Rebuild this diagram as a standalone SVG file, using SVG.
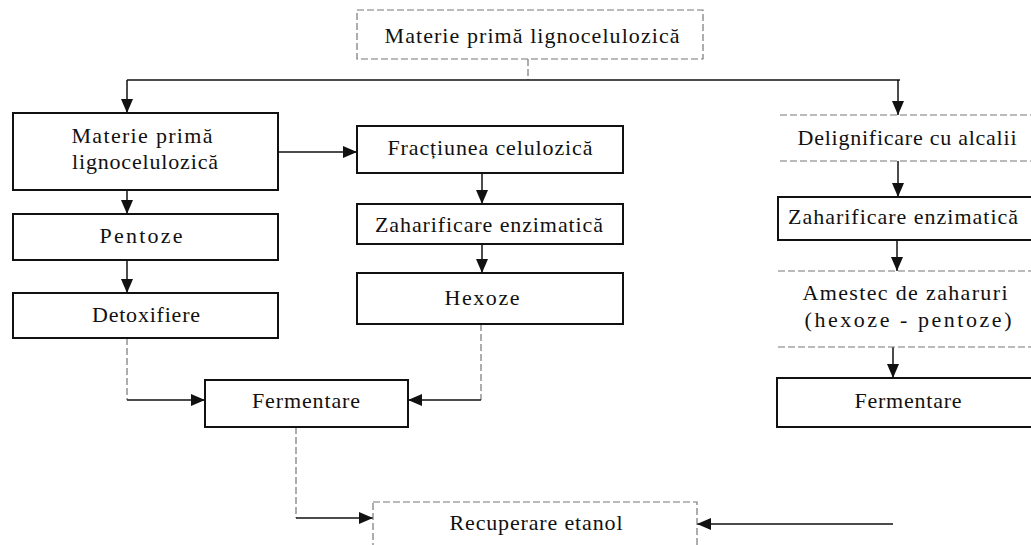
<svg xmlns="http://www.w3.org/2000/svg" width="1031" height="545" viewBox="0 0 1031 545">
<style>
text{font-family:"Liberation Serif","Times New Roman",serif;font-size:22px;fill:#111;text-anchor:middle}
.box{fill:#fff;stroke:#111;stroke-width:2}
.dbox{fill:#fff;stroke:#777;stroke-width:1.2;stroke-dasharray:7 3}
.dl{fill:none;stroke:#777;stroke-width:1.2;stroke-dasharray:7 3}
.c{fill:none;stroke:#111;stroke-width:1.5}
.cd{fill:none;stroke:#777;stroke-width:1.2;stroke-dasharray:7 3}
</style>
<defs>
<marker id="ah" viewBox="0 0 14 12" refX="14" refY="6" markerWidth="14" markerHeight="12" markerUnits="userSpaceOnUse" orient="auto">
<path d="M0,0 L14,6 L0,12 Z" fill="#111"/>
</marker>
</defs>
<g id="connectors">
<path class="cd" d="M528,59 V80"/>
<path class="c" d="M127,80 H900"/>
<path class="c" d="M127,80 V113" marker-end="url(#ah)"/>
<path class="c" d="M898,80 V115" marker-end="url(#ah)"/>
<path class="c" d="M278,152 H357" marker-end="url(#ah)"/>
<path class="c" d="M127,190 V214" marker-end="url(#ah)"/>
<path class="c" d="M127,260 V293" marker-end="url(#ah)"/>
<path class="c" d="M482,173 V204" marker-end="url(#ah)"/>
<path class="c" d="M482,244 V273" marker-end="url(#ah)"/>
<path class="cd" d="M127,338 V400"/>
<path class="c" d="M127,400 H205" marker-end="url(#ah)"/>
<path class="cd" d="M481,324 V400"/>
<path class="c" d="M481,400 H408" marker-end="url(#ah)"/>
<path class="cd" d="M296,427 V518"/>
<path class="c" d="M296,518 H373" marker-end="url(#ah)"/>
<path class="c" d="M893,524 H697" marker-end="url(#ah)"/>
<path class="c" d="M898,161 V197" marker-end="url(#ah)"/>
<path class="c" d="M897,240 V271" marker-end="url(#ah)"/>
<path class="c" d="M893,347 V378" marker-end="url(#ah)"/>
</g>
<g id="n-top">
<rect class="dbox" x="357" y="10" width="346" height="49"/>
<text x="532" y="43" textLength="295" lengthAdjust="spacing">Materie primă lignocelulozică</text>
</g>
<g id="n-materie">
<rect class="box" x="13" y="113" width="265" height="77"/>
<text x="142" y="143" textLength="141" lengthAdjust="spacing">Materie primă</text>
<text x="145" y="169" textLength="146" lengthAdjust="spacing">lignocelulozică</text>
</g>
<g id="n-fractiunea">
<rect class="box" x="357" y="126" width="266" height="47"/>
<text x="490" y="155" textLength="205" lengthAdjust="spacing">Fracțiunea celulozică</text>
</g>
<g id="n-zahar1">
<rect class="box" x="357" y="204" width="266" height="40"/>
<text x="489" y="232" textLength="228" lengthAdjust="spacing">Zaharificare enzimatică</text>
</g>
<g id="n-hexoze">
<rect class="box" x="357" y="273" width="266" height="51"/>
<text x="482" y="305" textLength="75" lengthAdjust="spacing">Hexoze</text>
</g>
<g id="n-pentoze">
<rect class="box" x="13" y="214" width="265" height="46"/>
<text x="141" y="243" textLength="83" lengthAdjust="spacing">Pentoze</text>
</g>
<g id="n-detox">
<rect class="box" x="13" y="293" width="265" height="45"/>
<text x="146" y="322" textLength="108" lengthAdjust="spacing">Detoxifiere</text>
</g>
<g id="n-ferm1">
<rect class="box" x="205" y="380" width="203" height="47"/>
<text x="306" y="408" textLength="108" lengthAdjust="spacing">Fermentare</text>
</g>
<g id="n-recuperare">
<rect class="dbox" x="373" y="502" width="324" height="60"/>
<text x="536" y="530" textLength="173" lengthAdjust="spacing">Recuperare etanol</text>
</g>
<g id="n-delign">
<path class="dl" d="M780,115 H1031 M780,161 H1031"/>
<text x="907" y="145" textLength="219" lengthAdjust="spacing">Delignificare cu alcalii</text>
</g>
<g id="n-zahar2">
<rect class="box" x="778" y="197" width="270" height="43"/>
<text x="903" y="224" textLength="230" lengthAdjust="spacing">Zaharificare enzimatică</text>
</g>
<g id="n-amestec">
<path class="dl" d="M778,271 H1031 M778,347 H1031"/>
<text x="905" y="300" textLength="205" lengthAdjust="spacing">Amestec de zaharuri</text>
<text x="908" y="327" textLength="207" lengthAdjust="spacing">(hexoze - pentoze)</text>
</g>
<g id="n-ferm2">
<rect class="box" x="777" y="378" width="270" height="49"/>
<text x="908" y="408" textLength="107" lengthAdjust="spacing">Fermentare</text>
</g>
</svg>
